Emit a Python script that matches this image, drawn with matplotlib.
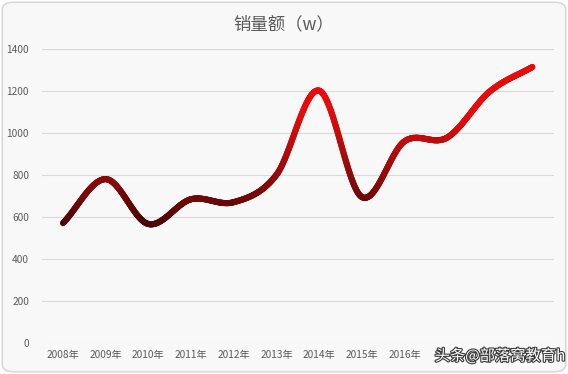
import numpy as np
import matplotlib
matplotlib.use("Agg")
import matplotlib.pyplot as plt
from matplotlib.collections import LineCollection
from matplotlib.colors import LinearSegmentedColormap, Normalize
from matplotlib.patches import FancyBboxPatch
import matplotlib.patheffects as pe

plt.rcParams['font.family'] = ['Noto Sans CJK SC', 'DejaVu Sans']

# data
years = ['2008年', '2009年', '2010年', '2011年', '2012年', '2013年',
         '2014年', '2015年', '2016年', '2017年', '2018年', '2019年']
sales = [570, 780, 566, 684, 670, 800, 1202, 695, 960, 978, 1198, 1315]
y_ticks = [0, 200, 400, 600, 800, 1000, 1200, 1400]


def catmull_rom(xs, ys, n=80):
    # smooth line through the points, like Excel's "smoothed line"
    px = np.concatenate([[2 * xs[0] - xs[1]], xs, [2 * xs[-1] - xs[-2]]])
    py = np.concatenate([[2 * ys[0] - ys[1]], ys, [2 * ys[-1] - ys[-2]]])
    out_x, out_y = [], []
    t = np.linspace(0, 1, n, endpoint=False)
    for i in range(1, len(px) - 2):
        for p, out in ((px, out_x), (py, out_y)):
            p0, p1, p2, p3 = p[i - 1], p[i], p[i + 1], p[i + 2]
            m1 = (p2 - p0) / 2
            m2 = (p3 - p1) / 2
            h00 = 2 * t**3 - 3 * t**2 + 1
            h10 = t**3 - 2 * t**2 + t
            h01 = -2 * t**3 + 3 * t**2
            h11 = t**3 - t**2
            out.extend(h00 * p1 + h10 * m1 + h01 * p2 + h11 * m2)
    out_x.append(xs[-1])
    out_y.append(ys[-1])
    return np.array(out_x), np.array(out_y)


fig = plt.figure(figsize=(5.68, 3.74), dpi=100, facecolor='white')
frame = FancyBboxPatch((0.004, 0.006), 0.992, 0.988, transform=fig.transFigure,
                       boxstyle='round,pad=0,rounding_size=0.02',
                       facecolor='#f8f8f8', edgecolor='#d9d9d9', lw=1.2, zorder=-10)
fig.patches.append(frame)

ax = fig.add_axes([0.0733, 0.0837, 0.9017, 0.785])
ax.patch.set_alpha(0)

x = np.arange(len(years), dtype=float)
sx, sy = catmull_rom(x, np.array(sales, dtype=float))
pts = np.column_stack([sx, sy]).reshape(-1, 1, 2)
segs = np.concatenate([pts[:-1], pts[1:]], axis=1)

cmap = LinearSegmentedColormap.from_list('red_grad', ['#4a0606', '#9a0a0a', '#e60c0c'])
norm = Normalize(vmin=560, vmax=1100)
lc = LineCollection(segs, cmap=cmap, norm=norm, linewidths=4.4, capstyle='round',
                    joinstyle='round', zorder=3)
lc.set_array((sy[:-1] + sy[1:]) / 2)
ax.add_collection(lc)

ax.set_xlim(-0.5, len(years) - 0.5)
ax.set_ylim(0, 1400)
ax.set_yticks(y_ticks)
ax.set_xticks(x)
ax.set_xticklabels(years)
ax.grid(axis='y', color='#d9d9d9', lw=0.8, zorder=0)
ax.set_axisbelow(True)
for s in ax.spines.values():
    s.set_visible(False)
ax.tick_params(axis='both', length=0, labelsize=7.3, labelcolor='#595959')
ax.tick_params(axis='y', pad=9)
ax.tick_params(axis='x', pad=5)

# the last year labels sit under the watermark in the original
for lab in ax.get_xticklabels()[9:]:
    lab.set_visible(False)

fig.text(0.5, 0.935, '销量额（w）', ha='center', va='center', fontsize=12.5, color='#595959')

# watermark in the lower right corner
fig.text(0.995, 0.048, '头条@部落窝教育h', ha='right', va='center', fontsize=11,
         color='white', zorder=10,
         path_effects=[pe.withStroke(linewidth=1.6, foreground='#3a3a3a')])

fig.savefig('out.png', dpi=100, facecolor=fig.get_facecolor())
